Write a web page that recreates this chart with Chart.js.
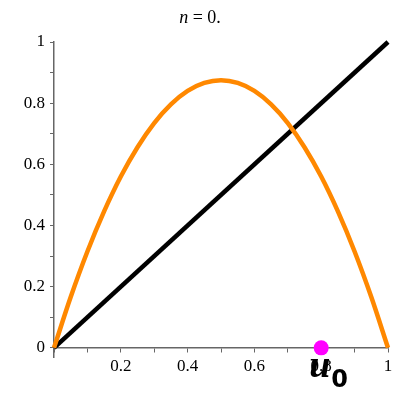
<!DOCTYPE html>
<html>
<head>
<meta charset="utf-8">
<script src="https://cdn.jsdelivr.net/npm/chart.js@4/dist/chart.umd.min.js"></script>
<style>
  html, body { margin: 0; padding: 0; background: #fff; }
  #wrap { width: 400px; height: 400px; }
</style>
</head>
<body>
<div id="wrap"><canvas id="c"></canvas></div>
<script>
// values
var curveX = [0, 0.05, 0.1, 0.15, 0.2, 0.25, 0.3, 0.35, 0.4, 0.45, 0.5,
              0.55, 0.6, 0.65, 0.7, 0.75, 0.8, 0.85, 0.9, 0.95, 1];
var curveY = [0, 0.166, 0.315, 0.446, 0.56, 0.656, 0.735, 0.796, 0.84, 0.866, 0.875,
              0.866, 0.84, 0.796, 0.735, 0.656, 0.56, 0.446, 0.315, 0.166, 0];
var diagX = [0, 1];
var diagY = [0, 1];
var u0 = 0.8;
var tickValues = [0, 0.1, 0.2, 0.3, 0.4, 0.5, 0.6, 0.7, 0.8, 0.9, 1];
var titleN = 0;

var serif = '"Liberation Serif", "Times New Roman", serif';

function pts(xs, ys) {
    return xs.map((x, i) => ({ x: x, y: ys[i] }));
}

function fmt(v) {
    var r = Math.round(v * 10);
    if (r % 2 !== 0) return '';
    return r === 10 ? '1' : (r === 0 ? '0' : (r / 10).toString());
}

// title "n = 0." and the u0 label
const labels = {
    id: 'labels',
    afterDraw(chart) {
        const ctx = chart.ctx;
        ctx.save();
        ctx.fillStyle = '#000';
        ctx.textBaseline = 'alphabetic';
        ctx.font = 'italic 18px ' + serif;
        var a = 'n';
        var b = ' = ' + titleN + '.';
        var wa = ctx.measureText(a).width;
        ctx.font = '18px ' + serif;
        var wb = ctx.measureText(b).width;
        var x0 = 200 - (wa + wb) / 2;
        ctx.font = 'italic 18px ' + serif;
        ctx.fillText(a, x0, 23);
        ctx.font = '18px ' + serif;
        ctx.fillText(b, x0 + wa, 23);

        const xs = chart.scales.x, ys = chart.scales.y;
        var px = xs.getPixelForValue(u0);
        var py = ys.getPixelForValue(0);
        ctx.font = 'bold italic 38px ' + serif;
        ctx.fillText('u', px - 12, py + 29);
        ctx.font = 'bold 24px "DejaVu Sans", sans-serif';
        ctx.fillText('0', px + 10, py + 39);
        ctx.restore();
    }
};

new Chart(document.getElementById('c'), {
    type: 'scatter',
    data: {
        datasets: [
            {
                data: pts(diagX, diagY),
                showLine: true,
                borderColor: '#000000',
                borderWidth: 4.5,
                pointRadius: 0,
                clip: false,
                order: 3
            },
            {
                data: pts(curveX, curveY),
                showLine: true,
                borderColor: '#FF8800',
                borderWidth: 4.5,
                tension: 0.4,
                cubicInterpolationMode: 'monotone',
                pointRadius: 0,
                clip: false,
                order: 2
            },
            {
                data: [{ x: u0, y: 0 }],
                backgroundColor: '#FF00FF',
                borderColor: '#FF00FF',
                pointRadius: 7.5,
                borderWidth: 0,
                clip: false,
                order: 1
            }
        ]
    },
    options: {
        responsive: true,
        maintainAspectRatio: false,
        animation: false,
        layout: { padding: { left: 0, right: 12, top: 42, bottom: 43 } },
        plugins: {
            legend: { display: false },
            tooltip: { enabled: false },
            title: { display: false }
        },
        scales: {
            x: {
                type: 'linear',
                min: 0,
                max: 1,
                position: { y: 0 },
                afterBuildTicks: (s) => { s.ticks = tickValues.map(v => ({ value: v })); },
                grid: {
                    drawOnChartArea: false,
                    drawTicks: true,
                    tickLength: 4,
                    color: '#666'
                },
                border: { display: true, color: '#666', width: 1.5 },
                ticks: {
                    autoSkip: false,
                    maxRotation: 0,
                    padding: 5,
                    color: '#000',
                    font: { family: serif, size: 17 },
                    callback: (v) => (v === 0 ? '' : fmt(v))
                }
            },
            y: {
                type: 'linear',
                min: -0.03,
                max: 1,
                position: 'left',
                afterBuildTicks: (s) => { s.ticks = tickValues.map(v => ({ value: v })); },
                afterFit: (s) => { s.width = 54; },
                grid: {
                    drawOnChartArea: false,
                    drawTicks: true,
                    tickLength: 4,
                    color: '#666'
                },
                border: { display: true, color: '#666', width: 1.5 },
                ticks: {
                    autoSkip: false,
                    padding: 5,
                    color: '#000',
                    font: { family: serif, size: 17 },
                    callback: (v) => fmt(v)
                }
            }
        }
    },
    plugins: [labels]
});
</script>
</body>
</html>
